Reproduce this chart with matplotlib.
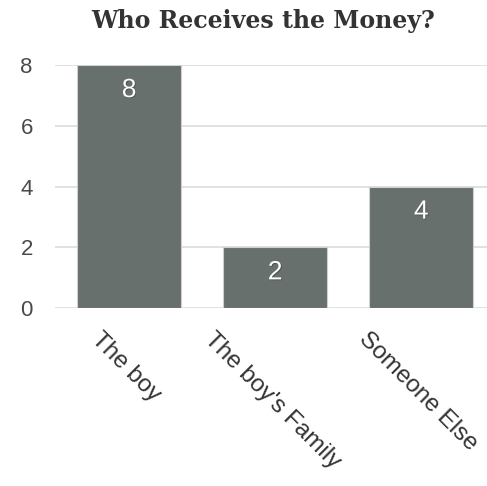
import matplotlib.pyplot as plt
import matplotlib.transforms as mtransforms
import matplotlib.patheffects as pe

categories = ["The boy", "The boy's Family", "Someone Else"]
counts = [8, 2, 4]
yticks = [0, 2, 4, 6, 8]

bar_color = "#67706c"
text_color = "#4a4a4a"

plt.rcParams["font.family"] = ["Liberation Sans", "DejaVu Sans"]

fig = plt.figure(figsize=(4.87, 4.86), dpi=100)
ax = fig.add_axes([0.113, 0.366, 0.887, 0.5])

x = list(range(len(categories)))
bars = ax.bar(x, counts, width=0.712, color=bar_color, edgecolor="#d0d0d0",
              linewidth=0.8, zorder=3)

ax.set_xlim(-0.507, 2.45)
ax.set_ylim(0, 8)
ax.set_yticks(yticks)
ax.yaxis.grid(True, color="#dcdcdc", linewidth=1.2, zorder=0)
ax.set_axisbelow(True)
for s in ax.spines.values():
    s.set_visible(False)
ax.tick_params(axis="y", length=0, pad=16, labelsize=16, labelcolor=text_color)
ax.set_xticks([])

# value labels inside bars
for b, v in zip(bars, counts):
    ax.annotate(str(v), (b.get_x() + b.get_width() / 2, v), xytext=(0, -18),
                textcoords="offset points", ha="center", va="center",
                color="white", fontsize=19, zorder=4,
                path_effects=[pe.withSimplePatchShadow(offset=(0.6, -0.6),
                                                       shadow_rgbFace="#333333", alpha=0.5)])

# rotated category labels, bbox centred under each bar
shift = mtransforms.ScaledTranslation(-3 / 100, -20 / 100, fig.dpi_scale_trans)
trans = mtransforms.blended_transform_factory(ax.transData, ax.transAxes) + shift
for xi, lab in zip(x, categories):
    ax.text(xi, 0, lab, transform=trans, rotation=-45,
            ha="center", va="top", fontsize=17.5, color="#333333")

fig.text(0.54, 0.957, "Who Receives the Money?", ha="center", va="center",
         fontsize=17, fontweight="bold", family="DejaVu Serif", color="#333333")

fig.savefig("out.png", dpi=100)
